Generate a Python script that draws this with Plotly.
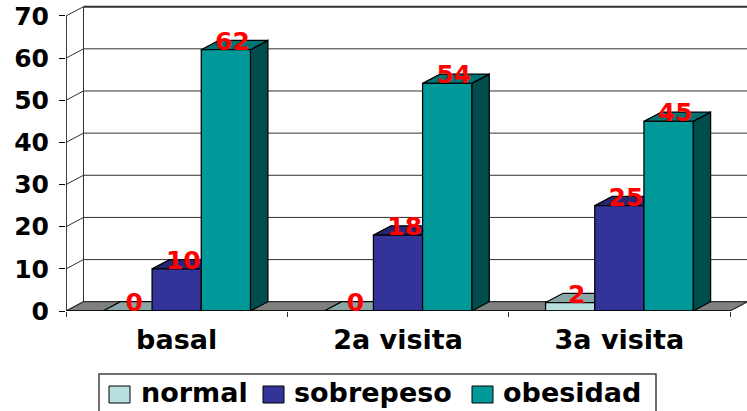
import plotly.graph_objects as go

categories = ["basal", "2a visita", "3a visita"]
normal = [0, 0, 2]
sobrepeso = [10, 18, 25]
obesidad = [62, 54, 45]
y_ticks = [0, 10, 20, 30, 40, 50, 60, 70]

series_names = ["normal", "sobrepeso", "obesidad"]
series_values = [normal, sobrepeso, obesidad]
front_colors = ["#B8DFE0", "#333399", "#009999"]
top_colors = ["#8AA7A8", "#262673", "#007373"]
side_colors = ["#5C7070", "#1A1A4D", "#004D4D"]

FONT = "DejaVu Sans"
W, H = 747, 411
L, T, B = 66, 5, 100
DEPTH_X = 0.079   # oblique depth of the fake 3D, in x units
DEPTH_Y = 2.2     # same, in y units
BAR_W = 2 / 9
X_MAX = 3 + 17 / 221.5
Y_MAX = 72.6


def poly(points, fill, line="#000000", width=1.25):
    path = "M" + " L".join(f"{x},{y}" for x, y in points) + " Z"
    return dict(type="path", path=path, xref="x", yref="y", layer="below",
                fillcolor=fill, line=dict(color=line, width=width))


def seg(x0, y0, x1, y1, color="#303030", width=1):
    return dict(type="line", x0=x0, y0=y0, x1=x1, y1=y1, xref="x", yref="y",
                layer="below", line=dict(color=color, width=width))


def paper_x(px):
    return (px - L) / (W - L)


def paper_y(px):
    return 1 - (px - T) / (H - T - B)


xs = [i + 0.5 for i in range(len(categories))]
fig = go.Figure()

# back wall gridlines
shapes = []
for v in y_ticks[1:]:
    shapes.append(seg(0, v, DEPTH_X, v + DEPTH_Y))
    shapes.append(seg(DEPTH_X, v + DEPTH_Y, 3 + DEPTH_X, v + DEPTH_Y,
                      width=2 if v == 70 else 1))
shapes.append(seg(DEPTH_X, DEPTH_Y, DEPTH_X, 70 + DEPTH_Y))

# floor
shapes.append(poly([(0, 0), (3, 0), (3 + DEPTH_X, DEPTH_Y), (DEPTH_X, DEPTH_Y)], "#808080", "#303030"))

# side and top faces of every bar, the front face is the real bar trace
for j, values in enumerate(series_values):
    for k, v in enumerate(values):
        left = xs[k] - 1 / 3 + j * BAR_W
        right = left + BAR_W
        shapes.append(poly([(right, 0), (right + DEPTH_X, DEPTH_Y),
                            (right + DEPTH_X, v + DEPTH_Y), (right, v)], side_colors[j]))
        shapes.append(poly([(left, v), (right, v), (right + DEPTH_X, v + DEPTH_Y),
                            (left + DEPTH_X, v + DEPTH_Y)], top_colors[j]))

for j, values in enumerate(series_values):
    fig.add_trace(go.Bar(x=xs, y=values, name=series_names[j], marker_color=front_colors[j],
                         marker_line=dict(color="#000000", width=1.25), showlegend=False))

# front axis lines
fig.add_trace(go.Scatter(x=[0, 0, None, 0, 3], y=[70, 0, None, 0, 0], mode="lines",
                         line=dict(color="#000000", width=1.5), cliponaxis=False,
                         showlegend=False, hoverinfo="skip"))

# value labels
for j, values in enumerate(series_values):
    fig.add_trace(go.Scatter(
        x=[xs[k] - 1 / 3 + (j + 0.5) * BAR_W + 0.03 for k in range(len(values))],
        y=[v + 1.5 for v in values],
        text=[str(v) for v in values],
        mode="text", textposition="middle center", cliponaxis=False,
        textfont=dict(family=FONT, size=25, color="#FF0000", weight="bold"),
        showlegend=False, hoverinfo="skip"))

# legend box drawn by hand, the built-in one is too tall and pushes the plot up
annotations = []
shapes.append(dict(type="rect", xref="paper", yref="paper", x0=paper_x(99), x1=paper_x(656),
                   y0=paper_y(413), y1=paper_y(374), fillcolor="white",
                   line=dict(color="#404040", width=1.5), layer="above"))
swatch_left = [109, 263, 472]
text_left = [141, 294, 503]
for j, name in enumerate(series_names):
    shapes.append(dict(type="rect", xref="paper", yref="paper",
                       x0=paper_x(swatch_left[j]), x1=paper_x(swatch_left[j] + 21),
                       y0=paper_y(403), y1=paper_y(386), fillcolor=front_colors[j],
                       line=dict(color="#000000", width=1), layer="above"))
    annotations.append(dict(text=name, xref="paper", yref="paper", x=paper_x(text_left[j]),
                            y=paper_y(392), xanchor="left", yanchor="middle", showarrow=False,
                            borderpad=0, xshift=-1,
                            font=dict(family=FONT, size=27, color="#000000", weight="bold")))

fig.update_layout(
    width=W, height=H,
    margin=dict(l=L, r=0, t=T, b=B),
    plot_bgcolor="white", paper_bgcolor="white",
    font=dict(family=FONT, size=25, color="#000000", weight="bold"),
    bargap=1 / 3, bargroupgap=0, barmode="group",
    shapes=shapes, annotations=annotations, showlegend=False,
    xaxis=dict(range=[0, X_MAX], tickvals=xs, ticktext=categories, ticks="", showgrid=False,
               zeroline=False, showline=False, ticklabelstandoff=10,
               tickfont=dict(family=FONT, size=27, color="#000000", weight="bold"),
               minor=dict(tickvals=[0, 1, 2, 3], ticks="outside", ticklen=5,
                          tickcolor="#303030", showgrid=False)),
    yaxis=dict(range=[0, Y_MAX], tickvals=y_ticks, ticks="outside", ticklen=6, tickcolor="#000000",
               showgrid=False, zeroline=False, showline=False, ticklabelstandoff=5),
)

fig.write_html("out.html", config=dict(displayModeBar=False),
               post_script="document.body.style.margin='0'")
